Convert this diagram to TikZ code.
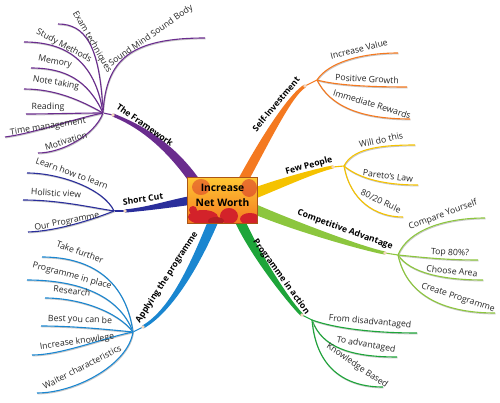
\documentclass[tikz,border=0pt]{standalone}
\usepackage{fontspec}
\setmainfont{Open Sans}
\usetikzlibrary{calc}
\definecolor{colfw}{HTML}{6A2C8E}
\definecolor{colsc}{HTML}{2A2E9B}
\definecolor{colap}{HTML}{1A86D0}
\definecolor{colsi}{HTML}{F47920}
\definecolor{colfp}{HTML}{F5C200}
\definecolor{colca}{HTML}{8CC63E}
\definecolor{colpa}{HTML}{1EA53A}
\definecolor{colred}{HTML}{D3222A}
\definecolor{colknob}{HTML}{F3D6BE}
\newcommand\mmbranch[9]{%
  \fill[fill=#1] ($(#2)+({#4+90}:#8pt)$) .. controls ($(#2)+({#4+90}:#8pt)+(#4:#6pt)$) and ($(#3)+({#5-90}:#9pt)+(#5:#7pt)$) .. ($(#3)+({#5-90}:#9pt)$)
    -- ($(#3)+({#5+90}:#9pt)$) .. controls ($(#3)+({#5+90}:#9pt)+(#5:#7pt)$) and ($(#2)+({#4-90}:#8pt)+(#4:#6pt)$) .. ($(#2)+({#4-90}:#8pt)$) -- cycle;}
\newcommand\mmleaf[5]{%
  \draw[leafshadow] ($(#2)+(0.5,-0.9)$) .. controls ($(#2)+(#4)+(0.5,-0.9)$) and ($(#3)+(#5)+(0.5,-0.9)$) .. ($(#3)+(0.5,-0.9)$);
  \draw[leafline,draw=#1] (#2) .. controls ($(#2)+(#4)$) and ($(#3)+(#5)$) .. (#3);}
\begin{document}
\begin{tikzpicture}[x=1pt,y=1pt,
  leafline/.style={line width=1.1pt},
  leafshadow/.style={line width=1pt,draw=black!22},
  leaftext/.style={font=\fontsize{8.7}{10}\selectfont,inner sep=0pt,text=black!85},
  brlabel/.style={font=\bfseries\fontsize{8.6}{10}\selectfont,inner sep=0pt,text=black},
  knob/.style={fill=colknob},
  hubbox/.style={rectangle,minimum width=69pt,minimum height=45pt,inner sep=0pt,top color=orange!55!yellow!80,bottom color=colsi},
  hubtext/.style={font=\bfseries\fontsize{10.3}{15}\selectfont,align=center,inner sep=0pt,text=black}]
\useasboundingbox (0,0) rectangle (500,402);
\fill[white] (0,0) rectangle (500,402);
% main branch anchors
\coordinate (A1) at (200,213); \coordinate (K1) at (113,287); \coordinate (J1) at (103,289);
\coordinate (A2) at (200,203); \coordinate (K2) at (125,191); \coordinate (J2) at (114,191);
\coordinate (A3) at (217,190); \coordinate (K3) at (143,75);  \coordinate (J3) at (133,70);
\coordinate (A4) at (238,212); \coordinate (K4) at (305,316); \coordinate (J4) at (317,322);
\coordinate (A5) at (245,205); \coordinate (K5) at (333,235); \coordinate (J5) at (344,236);
\coordinate (A6) at (245,197); \coordinate (K6) at (385,149); \coordinate (J6) at (398,147);
\coordinate (A7) at (236,190); \coordinate (K7) at (302,87);  \coordinate (J7) at (312,82);
% main branches
\mmbranch{colfw}{A1}{K1}{123}{-22}{55}{25}{5}{1.6}
\mmbranch{colsc}{A2}{K2}{188}{5}{25}{25}{4.5}{1.6}
\mmbranch{colap}{A3}{K3}{248}{30}{50}{35}{5}{1.6}
\mmbranch{colsi}{A4}{K4}{62}{210}{65}{15}{5}{1.6}
\mmbranch{colfp}{A5}{K5}{22}{190}{30}{15}{5.5}{1.6}
\mmbranch{colca}{A6}{K6}{-24}{170}{50}{20}{5}{1.6}
\mmbranch{colpa}{A7}{K7}{-68}{135}{40}{20}{5}{1.6}
\draw[leafline,draw=colfw] (K1) -- (J1);
\draw[leafline,draw=colsc] (K2) -- (J2);
\draw[leafline,draw=colap] (K3) -- (J3);
\draw[leafline,draw=colsi] (K4) -- (J4);
\draw[leafline,draw=colfp] (K5) -- (J5);
\draw[leafline,draw=colca] (K6) -- (J6);
\draw[leafline,draw=colpa] (K7) -- (J7);
\foreach \k in {K1,K2,K3,K4,K5,K6,K7} {\fill[knob] (\k) circle (1.8);}
% central topic
\node[hubbox] (hub) at (222.5,201.5) {};
\begin{scope}
  \clip (hub.south west) rectangle (hub.north east);
  \fill[colred,opacity=0.45] (201,215) ellipse (9 and 8);
  \fill[colred,opacity=0.5] (249,214) ellipse (8 and 9);
  \fill[colred] (203,185) ellipse (15 and 7);
  \fill[colred] (229,186) ellipse (9 and 8);
  \fill[colred] (250,183) ellipse (10 and 6);
  \fill[colred!85!black] (216,181) ellipse (8 and 4);
  \fill[colred] (193,192) circle (4);
\end{scope}
\draw[draw=colsi!70!black,line width=0.8pt] (hub.south west) rectangle (hub.north east);
\node[hubtext] (hubtext) at (222.5,206.5) {Increase\\Net Worth};
% leaf end points
\coordinate (Eexam) at (58,378);  \coordinate (Estudy) at (24,360); \coordinate (Emem) at (31,334);
\coordinate (Enote) at (24,313);  \coordinate (Eread) at (26,288);  \coordinate (Etime) at (5,265);
\coordinate (Emotiv) at (38,249); \coordinate (Esound) at (205,364);
\coordinate (Elearn) at (27,229); \coordinate (Ehol) at (23,202);   \coordinate (Eour) at (28,170);
\coordinate (Etake) at (42,145);  \coordinate (Eplace) at (27,122); \coordinate (Eres) at (45,104);
\coordinate (Ebest) at (41,76);   \coordinate (Eincr) at (32,47);   \coordinate (Ewait) at (37,9);
\coordinate (Eval) at (398,349);  \coordinate (Epos) at (407,315);  \coordinate (Eimm) at (410,283);
\coordinate (Ewill) at (415,257); \coordinate (Epar) at (418,217);  \coordinate (Eeig) at (403,185);
\coordinate (Ecmp) at (485,184);  \coordinate (Etop) at (478,142);  \coordinate (Echo) at (483,122);
\coordinate (Ecre) at (495,89);
\coordinate (Efrom) at (417,69);  \coordinate (Eto) at (397,45);    \coordinate (Eknow) at (383,15);
% leaves
\mmleaf{colfw}{J1}{Eexam}{-3,68}{27,0}
\mmleaf{colfw}{J1}{Estudy}{-8,53}{41,0}
\mmleaf{colfw}{J1}{Emem}{-15,33}{34,0}
\mmleaf{colfw}{J1}{Enote}{-23,13}{31,0}
\mmleaf{colfw}{J1}{Eread}{-25,0}{25,0}
\mmleaf{colfw}{J1}{Etime}{-30,-6}{30,4}
\mmleaf{colfw}{J1}{Emotiv}{-8,-22}{24,0}
\mmleaf{colfw}{J1}{Esound}{3,53}{-75,0}
\mmleaf{colsc}{J2}{Elearn}{-10,22}{33,0}
\mmleaf{colsc}{J2}{Ehol}{-25,4}{35,0}
\mmleaf{colsc}{J2}{Eour}{-20,-8}{30,1}
\mmleaf{colap}{J3}{Etake}{-8,57}{43,0}
\mmleaf{colap}{J3}{Eplace}{-15,40}{45,0}
\mmleaf{colap}{J3}{Eres}{-15,20}{35,0}
\mmleaf{colap}{J3}{Ebest}{-30,3}{30,0}
\mmleaf{colap}{J3}{Eincr}{-30,-6}{30,0}
\mmleaf{colap}{J3}{Ewait}{-5,-33}{38,0}
\mmleaf{colsi}{J4}{Eval}{11,17}{-38,0}
\mmleaf{colsi}{J4}{Epos}{18,-5}{-40,0}
\mmleaf{colsi}{J4}{Eimm}{13,-26}{-50,0}
\mmleaf{colfp}{J5}{Ewill}{8,16}{-40,0}
\mmleaf{colfp}{J5}{Epar}{12,-10}{-40,0}
\mmleaf{colfp}{J5}{Eeig}{6,-34}{-28,0}
\mmleaf{colca}{J6}{Ecmp}{10,25}{-40,0}
\mmleaf{colca}{J6}{Etop}{30,-3}{-30,0}
\mmleaf{colca}{J6}{Echo}{12,-18}{-40,0}
\mmleaf{colca}{J6}{Ecre}{8,-38}{-55,0}
\mmleaf{colpa}{J7}{Efrom}{22,-8}{-45,0}
\mmleaf{colpa}{J7}{Eto}{10,-28}{-45,0}
\mmleaf{colpa}{J7}{Eknow}{4,-48}{-38,0}
% branch labels
\node[brlabel,rotate=-35] (lfw) at (145,277) {The Framework};
\node[brlabel,rotate=8] (lsc) at (143,203) {Short Cut};
\node[brlabel,rotate=57] (lap) at (167,124.5) {Applying the programme};
\node[brlabel,rotate=50] (lsi) at (276,298) {Self-Investment};
\node[brlabel,rotate=15] (lfp) at (309,236) {Few People};
\node[brlabel,rotate=-20] (lca) at (345,172) {Competitive Advantage};
\node[brlabel,rotate=-54] (lpa) at (281,125) {Programme in action};
% leaf labels
\node[leaftext,rotate=-60] (texam) at (92,360) {Exam techniques};
\node[leaftext,rotate=-28] (tstudy) at (64,356) {Study Methods};
\node[leaftext,rotate=-12] (tmem) at (55,340) {Memory};
\node[leaftext,rotate=-10] (tnote) at (56,319) {Note taking};
\node[leaftext] (tread) at (48,295) {Reading};
\node[leaftext,rotate=9] (ttime) at (48,275) {Time management};
\node[leaftext,rotate=17] (tmotiv) at (66,261) {Motivation};
\node[leaftext,rotate=35] (tsound) at (151,366) {Sound Mind Sound Body};
\node[leaftext,rotate=-20] (tlearn) at (72,229) {Learn how to learn};
\node[leaftext,rotate=-3] (thol) at (56,209) {Holistic view};
\node[leaftext,rotate=11] (tour) at (67,180) {Our Programme};
\node[leaftext,rotate=-20] (ttake) at (80,150) {Take further};
\node[leaftext,rotate=-15] (tplace) at (72,126) {Programme in place};
\node[leaftext,rotate=-7] (tres) at (72,111) {Research};
\node[leaftext,rotate=-2] (tbest) at (80,82) {Best you can be};
\node[leaftext,rotate=8] (tincr) at (77,60) {Increase knowlege};
\node[leaftext,rotate=27] (twait) at (82,35) {Waiter characteristics};
\node[leaftext,rotate=14] (tval) at (359,353) {Increase Value};
\node[leaftext,rotate=-3] (tpos) at (367,323) {Positive Growth};
\node[leaftext,rotate=-17] (timm) at (372,298) {Immediate Rewards};
\node[leaftext,rotate=12] (twill) at (381,262) {Will do this};
\node[leaftext,rotate=-7] (tpar) at (388,226) {Pareto's Law};
\node[leaftext,rotate=-25] (teig) at (381,201) {80/20 Rule};
\node[leaftext,rotate=20] (tcmp) at (443,187) {Compare Yourself};
\node[leaftext,rotate=-3] (ttop) at (450,149) {Top 80\%?};
\node[leaftext,rotate=-6] (tcho) at (452,131) {Choose Area};
\node[leaftext,rotate=-18] (tcre) at (458,104) {Create Programme};
\node[leaftext,rotate=-5] (tfrom) at (370,80) {From disadvantaged};
\node[leaftext,rotate=-10] (tto) at (366,57) {To advantaged};
\node[leaftext,rotate=-34] (tknow) at (357,36) {Knowledge Based};
\end{tikzpicture}
\end{document}
